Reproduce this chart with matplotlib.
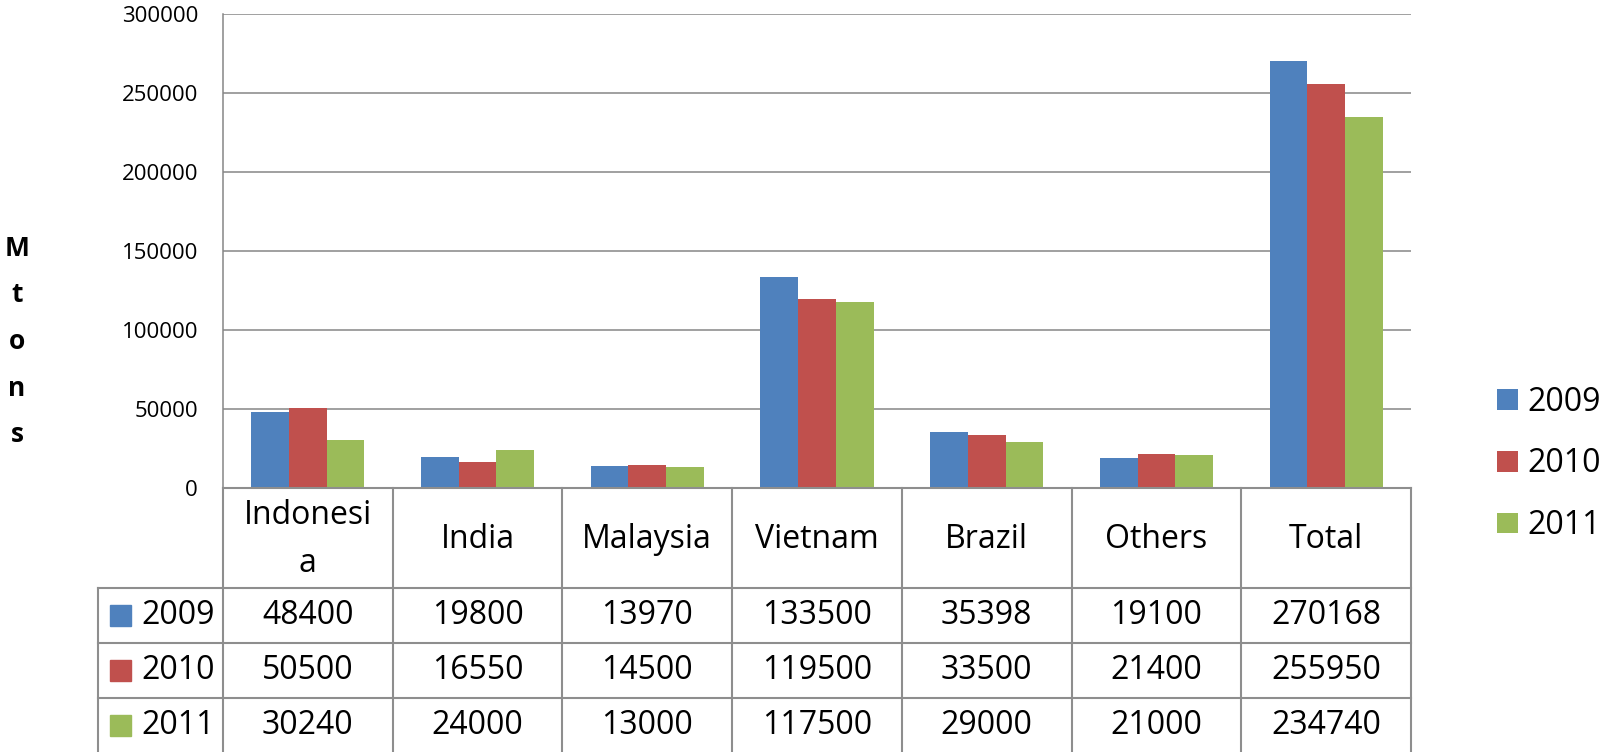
import matplotlib
matplotlib.use("Agg")
import matplotlib.pyplot as plt
from matplotlib.patches import Rectangle
import numpy as np

plt.rcParams['font.family'] = ['Open Sans', 'DejaVu Sans']

categories = ["Indonesi\na", "India", "Malaysia", "Vietnam", "Brazil", "Others", "Total"]
years = ["2009", "2010", "2011"]
v2009 = [48400, 19800, 13970, 133500, 35398, 19100, 270168]
v2010 = [50500, 16550, 14500, 119500, 33500, 21400, 255950]
v2011 = [30240, 24000, 13000, 117500, 29000, 21000, 234740]
series = [v2009, v2010, v2011]
colors = ["#4F81BD", "#C0504D", "#9BBB59"]
yticks = [0, 50000, 100000, 150000, 200000, 250000, 300000]

W, H = 1604, 752
grid_c = "#868686"
line_c = "#8E8E8E"


def box(l, t, r, b):
    # pixel box (from top-left) -> figure fraction
    return [l / W, 1 - b / H, (r - l) / W, (b - t) / H]


fig = plt.figure(figsize=(W / 100, H / 100), dpi=100)
ax = fig.add_axes(box(223, 14, 1411, 488))
tax = fig.add_axes(box(223, 488, 1411, 752), sharex=ax)

x = np.arange(len(categories))
bw = 1 / 4.5  # excel gap width 150%
for i, (vals, c, yr) in enumerate(zip(series, colors, years)):
    ax.bar(x + (i - 1) * bw, vals, bw, color=c, label=yr, linewidth=0)

ax.set_xlim(-0.5, len(categories) - 0.5)
ax.set_ylim(0, 300000)
ax.set_yticks(yticks)
ax.set_yticklabels([str(t) for t in yticks])
ax.yaxis.grid(True, color=grid_c, linewidth=1.1)
ax.set_axisbelow(True)
ax.tick_params(axis='y', length=0, pad=18, labelsize=16)
ax.tick_params(axis='x', bottom=False, labelbottom=False)
for s in ['top', 'right', 'bottom']:
    ax.spines[s].set_visible(False)
ax.spines['left'].set_color(grid_c)
ax.spines['left'].set_linewidth(1.1)

# data table under the plot
col_px = (1411 - 223) / len(categories)


def px2x(p):
    return -0.5 + (p - 223) / col_px


tax.set_ylim(264, 0)
tax.axis('off')
xl = px2x(98)
xr = len(categories) - 0.5
row_edges = [100, 155, 210]
kw = dict(color=line_c, linewidth=1.5, clip_on=False)
tax.plot([-0.5, xr], [0, 0], **kw)
for y in row_edges:
    tax.plot([xl, xr], [y, y], **kw)
for i in range(len(categories) + 1):
    tax.plot([i - 0.5, i - 0.5], [0, 264], **kw)
tax.plot([xl, xl], [100, 264], **kw)

for i, cat in enumerate(categories):
    tax.text(i, 51, cat, ha='center', va='center', fontsize=23, linespacing=1.6)

for r, (vals, c, yr) in enumerate(zip(series, colors, years)):
    yc = 127.5 + r * 55
    tax.add_patch(Rectangle((px2x(110), yc - 10.5), 21 / col_px, 21,
                            color=c, clip_on=False))
    tax.text(px2x(141), yc, yr, ha='left', va='center', fontsize=23)
    for i, v in enumerate(vals):
        tax.text(i, yc, str(v), ha='center', va='center', fontsize=23)

# y label, one letter per line
fig.text(17 / W, 1 - 341.5 / H, "M\nt\no\nn\ns", ha='center', va='center',
         fontsize=19, fontweight='bold', linespacing=1.93)

fig.legend(loc='center left', bbox_to_anchor=(1497 / W, 1 - 464 / H),
           frameon=False, fontsize=23, handlelength=0.66, handleheight=0.62,
           handletextpad=0.28, labelspacing=0.9, borderpad=0, borderaxespad=0)

fig.savefig("out.png", dpi=100)
